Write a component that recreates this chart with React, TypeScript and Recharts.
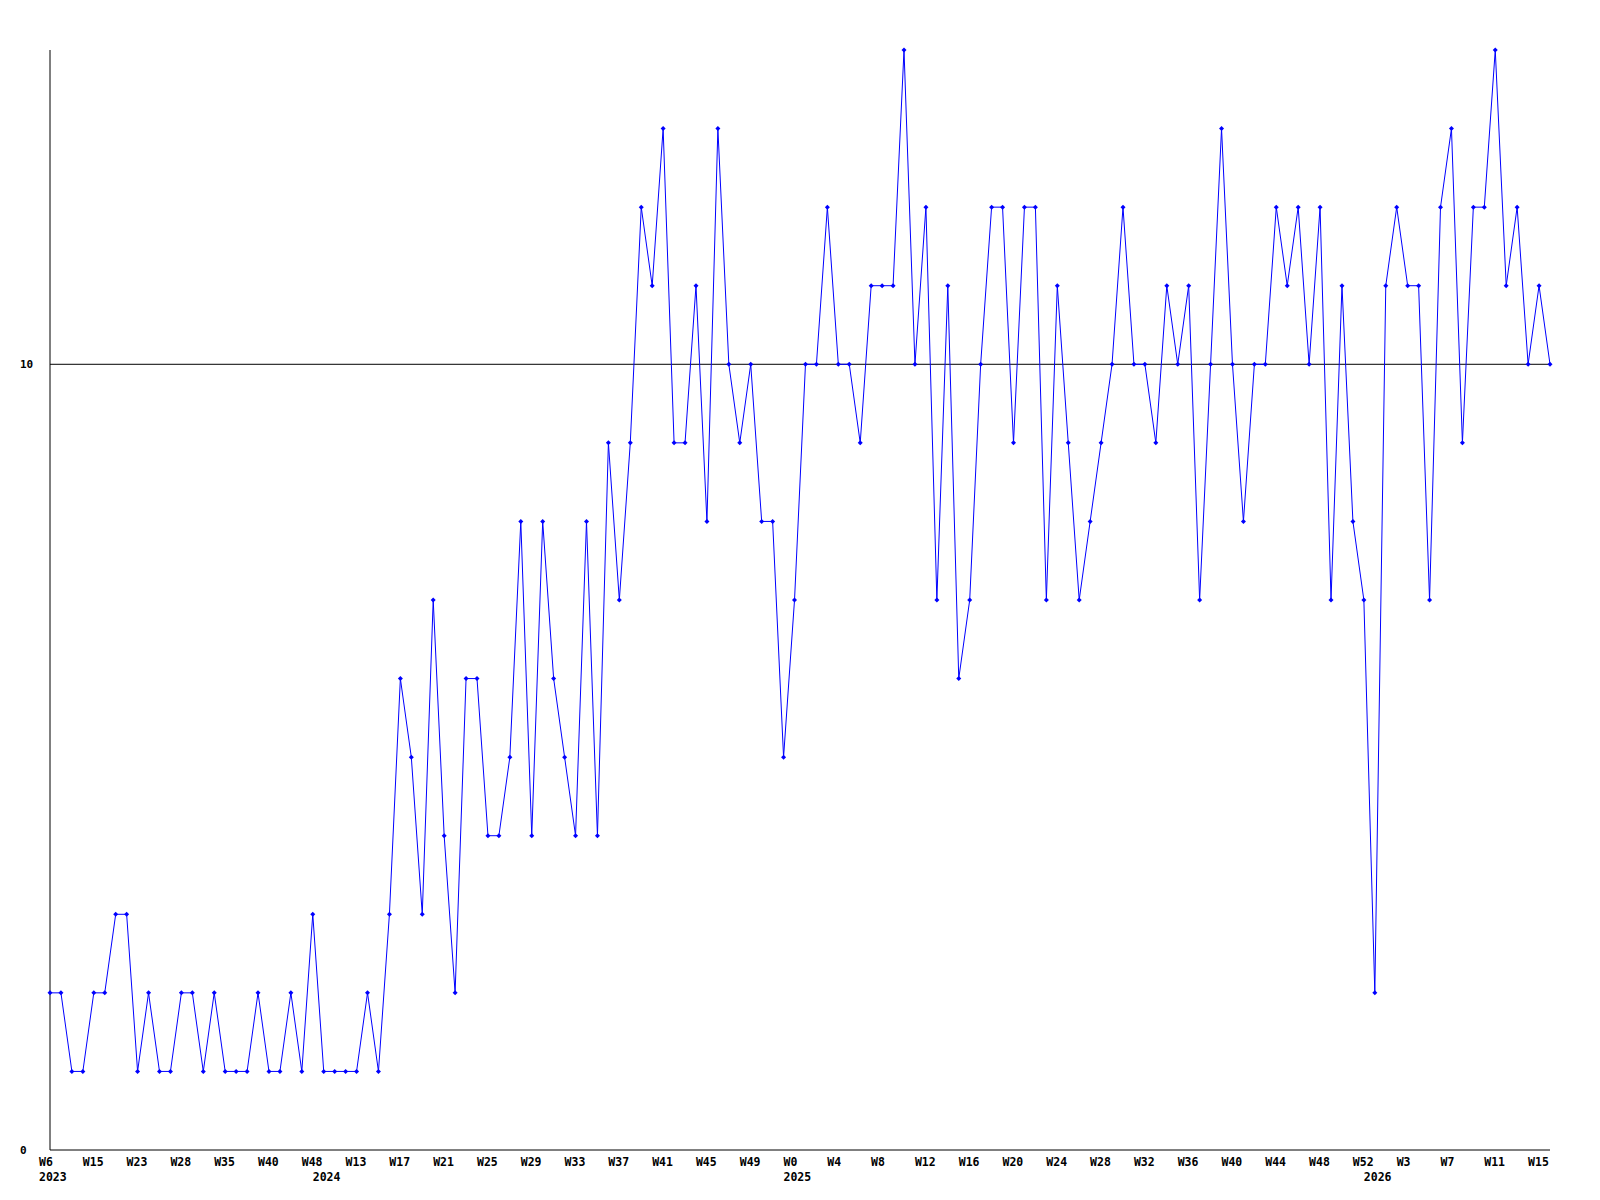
import { LineChart, Line, XAxis, YAxis, ReferenceLine } from 'recharts';

// weekly counts, one per point, left to right
const values = [
  2, 2, 1, 1, 2, 2, 3, 3, 1, 2, 1, 1, 2, 2, 1, 2, 1, 1, 1, 2, 1, 1, 2, 1, 3, 1,
  1, 1, 1, 2, 1, 3, 6, 5, 3, 7, 4, 2, 6, 6, 4, 4, 5, 8, 4, 8, 6, 5, 4, 8, 4, 9, 7, 9, 12,
  11, 13, 9, 9, 11, 8, 13, 10, 9, 10, 8, 8, 5, 7, 10, 10, 12, 10, 10, 9, 11, 11, 11, 14, 10, 12, 7, 11, 6, 7,
  10, 12, 12, 9, 12, 12, 7, 11, 9, 7, 8, 9, 10, 12, 10, 10, 9, 11, 10, 11, 7, 10, 13, 10, 8, 10, 10, 12, 11,
  12, 10, 12, 7, 11, 8, 7, 2, 11, 12, 11, 11, 7, 12, 13, 9, 12, 12, 14, 11, 12, 10, 11, 10,
];

// labels shown on every 4th point
const weekTicks = [
  'W6', 'W15', 'W23', 'W28', 'W35', 'W40', 'W48',
  'W13', 'W17', 'W21', 'W25', 'W29', 'W33', 'W37', 'W41', 'W45', 'W49',
  'W0', 'W4', 'W8', 'W12', 'W16', 'W20', 'W24', 'W28', 'W32', 'W36', 'W40', 'W44', 'W48', 'W52',
  'W3', 'W7', 'W11', 'W15',
];
const TICK_STEP = 4;

// first point of each year
const yearLabels = ['2023', '2024', '2025', '2026'];
const yearStarts = [0, 25, 68, 121];

const yTicks = [0, 10];

const FONT = '"DejaVu Sans Mono", monospace';

const data = values.map((v, i) => ({ i, v }));
const xTicks = Array.from(
  new Set([...weekTicks.map((_, k) => k * TICK_STEP), ...yearStarts])
).sort((a, b) => a - b);

function XTick(props: any) {
  const { x, payload } = props;
  const idx = payload.value as number;
  const week = idx % TICK_STEP === 0 ? weekTicks[idx / TICK_STEP] : null;
  const yi = yearStarts.indexOf(idx);
  return (
    <g>
      {week && (
        <text x={x - 11} y={1166} textAnchor="start" fontFamily={FONT} fontWeight="bold" fontSize={11.5} fill="#000">
          {week}
        </text>
      )}
      {yi >= 0 && (
        <text x={x - 11} y={1181} textAnchor="start" fontFamily={FONT} fontWeight="bold" fontSize={11.5} fill="#000">
          {yearLabels[yi]}
        </text>
      )}
    </g>
  );
}

function YTick(props: any) {
  const { y, payload } = props;
  return (
    <text x={20} y={y + 4} textAnchor="start" fontFamily={FONT} fontWeight="bold" fontSize={11} fill="#000">
      {payload.value}
    </text>
  );
}

function Diamond(props: any) {
  const { cx, cy } = props;
  if (cx == null || cy == null) return null;
  const r = 2.5;
  return (
    <polygon
      points={`${cx},${cy - r} ${cx + r},${cy} ${cx},${cy + r} ${cx - r},${cy}`}
      fill="#0000ff"
      stroke="none"
    />
  );
}

export default function App() {
  return (
    <div style={{ position: 'absolute', left: 0, top: 0, width: 1600, height: 1200, background: '#fff' }}>
      <LineChart width={1600} height={1200} data={data} margin={{ top: 50, right: 50, left: 0, bottom: 0 }}>
        <XAxis
          dataKey="i"
          type="number"
          domain={[0, values.length - 1]}
          ticks={xTicks}
          interval={0}
          height={50}
          tickLine={false}
          axisLine={{ stroke: '#000', strokeWidth: 1 }}
          tick={XTick}
        />
        <YAxis
          type="number"
          domain={[0, 14]}
          ticks={yTicks}
          interval={0}
          width={50}
          tickLine={false}
          axisLine={{ stroke: '#000', strokeWidth: 1 }}
          tick={YTick}
        />
        <ReferenceLine y={10} stroke="#000" strokeWidth={1} />
        <Line
          type="linear"
          dataKey="v"
          stroke="#0000ff"
          strokeWidth={1}
          dot={Diamond}
          activeDot={false}
          isAnimationActive={false}
        />
      </LineChart>
    </div>
  );
}
